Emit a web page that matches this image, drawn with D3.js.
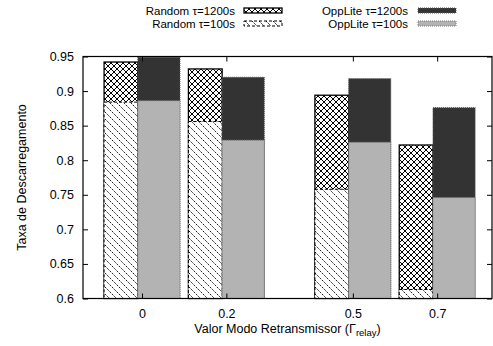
<!DOCTYPE html>
<html>
<head>
<meta charset="utf-8">
<script src="https://cdn.jsdelivr.net/npm/d3@7"></script>
<style>
  body { margin: 0; background: #fff; }
  text { font-family: "Liberation Sans", Arial, sans-serif; }
</style>
</head>
<body>
<div id="main"></div>
<script>
// chart values
const gammaVals = [0, 0.2, 0.5, 0.7];
const random1200 = [0.942, 0.932, 0.894, 0.822];
const random100 = [0.884, 0.856, 0.758, 0.613];
const opplite1200 = [0.949, 0.920, 0.918, 0.876];
const opplite100 = [0.886, 0.829, 0.826, 0.746];
const yTicks = [0.6, 0.65, 0.7, 0.75, 0.8, 0.85, 0.9, 0.95];
const legendLabels = ['Random \u03c4=1200s', 'Random \u03c4=100s', 'OppLite \u03c4=1200s', 'OppLite \u03c4=100s'];

const svgWidth = 493, svgHeight = 346;
const plot = {left: 83, right: 492, top: 56.5, bottom: 298.5};
const fontSize = 12.5;

const svg = d3.select('#main')
    .append('svg')
    .attr('width', svgWidth)
    .attr('height', svgHeight);

// fill patterns
const defs = svg.append('defs');
const cross = defs.append('pattern')
    .attr('id', 'cross')
    .attr('patternUnits', 'userSpaceOnUse')
    .attr('width', 6).attr('height', 6);
cross.append('rect').attr('width', 6).attr('height', 6).attr('fill', '#fff');
cross.append('path')
    .attr('d', 'M0,0L6,6M6,0L0,6M-1,5L1,7M5,-1L7,1M-1,1L1,-1M5,7L7,5')
    .attr('stroke', '#000').attr('stroke-width', 1);

const hatch = defs.append('pattern')
    .attr('id', 'hatch')
    .attr('patternUnits', 'userSpaceOnUse')
    .attr('width', 7).attr('height', 7);
hatch.append('rect').attr('width', 7).attr('height', 7).attr('fill', '#fff');
hatch.append('path')
    .attr('d', 'M0,0L7,7M-1,6L1,8M6,-1L8,1')
    .attr('stroke', '#000').attr('stroke-width', 0.9)
    .attr('stroke-dasharray', '2,1.2');

const xScale = d3.scaleLinear()
    .domain([-0.14, 0.83])
    .range([plot.left, plot.right]);

const yScale = d3.scaleLinear()
    .domain([0.6, 0.95])
    .range([plot.bottom, plot.top]);

// bar styles: Random narrower on the left, OppLite on the right
const series = [
    {vals: random1200, x0: -0.09, x1: -0.01, fill: 'url(#cross)', stroke: '#000', dash: null, sw: 1.3},
    {vals: random100, x0: -0.09, x1: -0.01, fill: 'url(#hatch)', stroke: '#000', dash: '3,2', sw: 1},
    {vals: opplite1200, x0: -0.01, x1: 0.09, fill: '#333333', stroke: '#555', dash: '1,1', sw: 1},
    {vals: opplite100, x0: -0.01, x1: 0.09, fill: '#b3b3b3', stroke: '#777', dash: '1,1', sw: 1}
];

series.forEach(s => {
    svg.append('g')
        .selectAll('rect')
        .data(s.vals)
        .enter()
        .append('rect')
        .attr('x', (d, i) => xScale(gammaVals[i] + s.x0))
        .attr('width', (d, i) => xScale(gammaVals[i] + s.x1) - xScale(gammaVals[i] + s.x0))
        .attr('y', d => yScale(d))
        .attr('height', d => yScale(0.6) - yScale(d))
        .attr('fill', s.fill)
        .attr('stroke', s.stroke)
        .attr('stroke-width', s.sw)
        .attr('stroke-dasharray', s.dash);
});

// axes, ticks pointing inward
const yAxis = svg.append('g')
    .attr('transform', `translate(${plot.left},0)`)
    .call(d3.axisLeft(yScale).tickValues(yTicks).tickFormat(d3.format('')).tickSize(-5).tickPadding(9));
const yAxisR = svg.append('g')
    .attr('transform', `translate(${plot.right},0)`)
    .call(d3.axisRight(yScale).tickValues(yTicks).tickFormat('').tickSize(-5));
const xAxis = svg.append('g')
    .attr('transform', `translate(0,${plot.bottom})`)
    .call(d3.axisBottom(xScale).tickValues(gammaVals).tickFormat(d3.format('')).tickSize(-5).tickPadding(11));
const xAxisT = svg.append('g')
    .attr('transform', `translate(0,${plot.top})`)
    .call(d3.axisTop(xScale).tickValues(gammaVals).tickFormat('').tickSize(-5));

[yAxis, yAxisR, xAxis, xAxisT].forEach(a => {
    a.select('.domain').remove();
    a.selectAll('line').attr('stroke', '#000');
    a.selectAll('text')
        .attr('font-size', fontSize)
        .attr('font-family', '"Liberation Sans", Arial, sans-serif')
        .attr('fill', '#000');
});

// frame
svg.append('rect')
    .attr('x', plot.left).attr('y', plot.top)
    .attr('width', plot.right - plot.left)
    .attr('height', plot.bottom - plot.top)
    .attr('fill', 'none')
    .attr('stroke', '#000')
    .attr('stroke-width', 1.2);

// axis titles
svg.append('text')
    .attr('transform', `translate(26,${(plot.top + plot.bottom) / 2}) rotate(-90)`)
    .attr('text-anchor', 'middle')
    .attr('font-size', fontSize)
    .text('Taxa de Descarregamento');

const xTitle = svg.append('text')
    .attr('x', (plot.left + plot.right) / 2)
    .attr('y', 333)
    .attr('text-anchor', 'middle')
    .attr('font-size', fontSize);
xTitle.append('tspan').text('Valor Modo Retransmissor (\u0393');
xTitle.append('tspan').attr('font-size', 9.5).attr('dy', 3).text('relay');
xTitle.append('tspan').attr('dy', -3).text(')');

// legend (two columns, two rows)
const legendFont = 11.5;
const legendPos = [
    {tx: 235, sx: 244, y: 10.5},
    {tx: 235, sx: 244, y: 23.5},
    {tx: 408, sx: 418, y: 10.5},
    {tx: 408, sx: 418, y: 23.5}
];
legendLabels.forEach((label, i) => {
    const p = legendPos[i];
    const s = series[i];
    svg.append('text')
        .attr('x', p.tx).attr('y', p.y + 4)
        .attr('text-anchor', 'end')
        .attr('font-size', legendFont)
        .text(label);
    svg.append('rect')
        .attr('x', p.sx).attr('y', p.y - 2.5)
        .attr('width', 38).attr('height', 5)
        .attr('fill', s.fill)
        .attr('stroke', s.stroke)
        .attr('stroke-width', s.sw)
        .attr('stroke-dasharray', s.dash);
});
</script>
</body>
</html>
